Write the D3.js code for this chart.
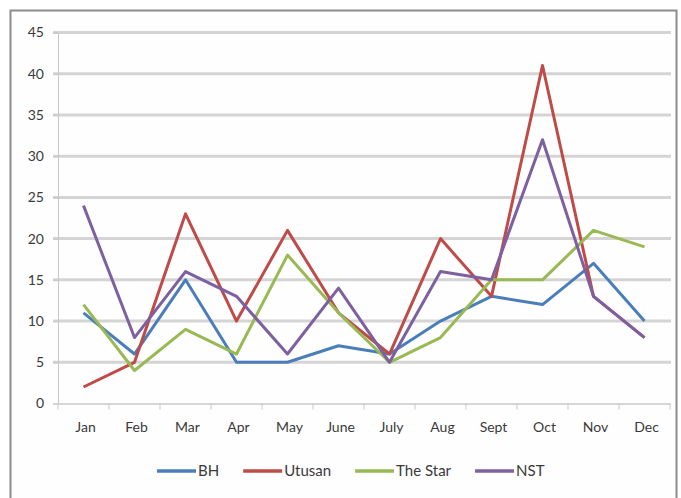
<!DOCTYPE html>
<html>
<head>
<meta charset="utf-8">
<script src="https://cdn.jsdelivr.net/npm/d3@7"></script>
<style>
  body { margin: 0; background: #ffffff; }
  text { font-family: Lato, "Noto Sans", sans-serif; fill: #3a3a3a; }
</style>
</head>
<body>
<svg id="svg"></svg>
<script>
// monthly counts per newspaper
const months = ['Jan', 'Feb', 'Mar', 'Apr', 'May', 'June', 'July', 'Aug', 'Sept', 'Oct', 'Nov', 'Dec'];
const bh = [11, 6, 15, 5, 5, 7, 6, 10, 13, 12, 17, 10];
const utusan = [2, 5, 23, 10, 21, 11, 6, 20, 13, 41, 13, 8];
const theStar = [12, 4, 9, 6, 18, 11, 5, 8, 15, 15, 21, 19];
const nst = [24, 8, 16, 13, 6, 14, 5, 16, 15, 32, 13, 8];
const seriesNames = ['BH', 'Utusan', 'The Star', 'NST'];
const yTicks = [0, 5, 10, 15, 20, 25, 30, 35, 40, 45];

const colors = ['#4a7ebb', '#be4b48', '#98b954', '#7d60a0'];
const series = [bh, utusan, theStar, nst].map((values, i) => ({ name: seriesNames[i], values }));

const width = 681;
const height = 498;

const svg = d3.select('#svg')
  .attr('width', width)
  .attr('height', height);

// chart frame
svg.append('rect')
  .attr('x', 10.5)
  .attr('y', 10.5)
  .attr('width', 666)
  .attr('height', 500)
  .attr('fill', '#fefefe')
  .attr('stroke', '#8c8c8c')
  .attr('stroke-width', 2);

const x = d3.scaleBand()
  .domain(months)
  .range([58, 670]);

const y = d3.scaleLinear()
  .domain([0, 45])
  .range([403.5, 32.5]);

// gridlines
svg.append('g')
  .selectAll('line')
  .data(yTicks.slice(1))
  .join('line')
  .attr('x1', 53)
  .attr('x2', 671)
  .attr('y1', d => y(d))
  .attr('y2', d => y(d))
  .attr('stroke', '#d4d4d4')
  .attr('stroke-width', 3);

// y axis
const yAxis = svg.append('g')
  .attr('transform', 'translate(58,0)')
  .call(d3.axisLeft(y).tickValues(yTicks).tickSize(5).tickPadding(9));
yAxis.select('.domain').attr('stroke', '#c8c8c8');
yAxis.selectAll('.tick line').attr('stroke', '#c8c8c8');
yAxis.selectAll('text').attr('font-size', 14).attr('fill', '#3a3a3a');

// x axis
const xAxis = svg.append('g')
  .attr('transform', `translate(0,${y(0)})`)
  .call(d3.axisBottom(x).tickSize(0).tickPadding(19));
xAxis.select('.domain').attr('stroke', '#c8c8c8').attr('stroke-width', 1.5);
xAxis.selectAll('text').attr('font-size', 14).attr('fill', '#3a3a3a').attr('dx', 2);

// tick marks at category boundaries
svg.append('g')
  .selectAll('line')
  .data(d3.range(months.length + 1))
  .join('line')
  .attr('x1', i => 58 + i * x.step())
  .attr('x2', i => 58 + i * x.step())
  .attr('y1', y(0))
  .attr('y2', y(0) + 6)
  .attr('stroke', '#c8c8c8');

// lines
const line = d3.line()
  .x((d, i) => x(months[i]) + x.bandwidth() / 2)
  .y(d => y(d));

svg.append('g')
  .selectAll('path')
  .data(series)
  .join('path')
  .attr('d', d => line(d.values))
  .attr('fill', 'none')
  .attr('stroke', (d, i) => colors[i])
  .attr('stroke-width', 3)
  .attr('stroke-linejoin', 'round');

// legend
const legend = svg.append('g')
  .attr('transform', 'translate(157,471)');
let lx = 0;
series.forEach((s, i) => {
  legend.append('line')
    .attr('x1', lx)
    .attr('x2', lx + 39)
    .attr('y1', 0)
    .attr('y2', 0)
    .attr('stroke', colors[i])
    .attr('stroke-width', 3.5);
  const t = legend.append('text')
    .attr('x', lx + 41)
    .attr('y', 0)
    .attr('dy', '0.35em')
    .attr('font-size', 15)
    .text(s.name);
  lx += 41 + t.node().getComputedTextLength() + 24;
});
</script>
</body>
</html>
